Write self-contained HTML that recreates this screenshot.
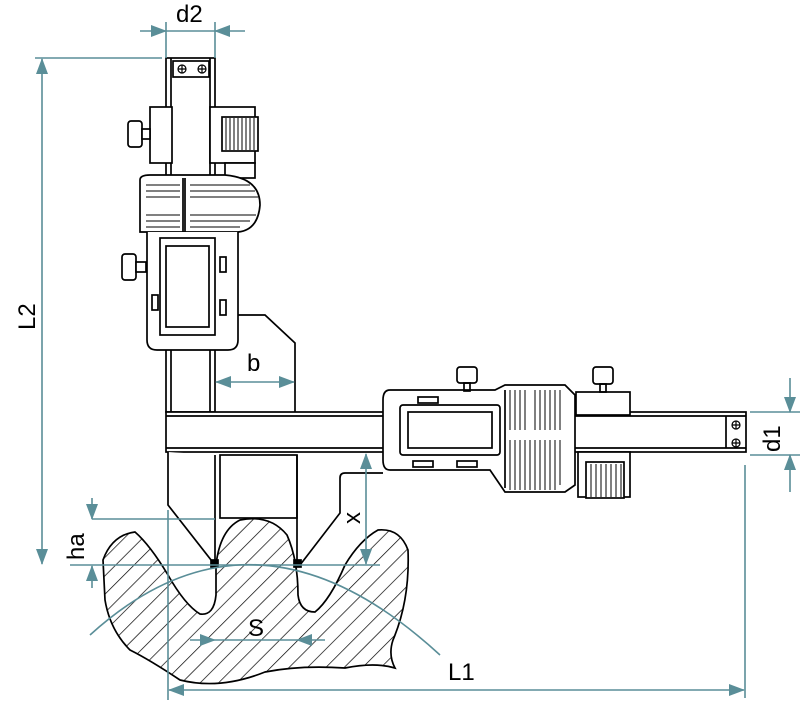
<!DOCTYPE html>
<html><head><style>body{margin:0;background:#fff}svg{display:block}</style></head><body>
<svg width="800" height="707" viewBox="0 0 800 707" xmlns="http://www.w3.org/2000/svg" font-family="Liberation Sans, sans-serif">
<defs>
<pattern id="h" width="13" height="13" patternUnits="userSpaceOnUse" patternTransform="rotate(45)">
<line x1="0" y1="0" x2="0" y2="13" stroke="#000" stroke-width="1.4"/></pattern>
<marker id="a" markerWidth="16" markerHeight="12" refX="15" refY="6" orient="auto" markerUnits="userSpaceOnUse"><path d="M0,0 L16,6 L0,12z" fill="#5a8e98"/></marker>
</defs>
<g fill="none" stroke="#000" stroke-width="1.7">
<!-- gear -->
<path d="M103,560 Q112,535 135,532 Q150,545 168,575 Q185,605 200,614 Q214,616 216,595 L216,565 Q220,530 240,520 Q270,514 287,535 Q298,560 298,595 Q300,612 315,612 Q330,600 345,565 Q360,540 378,530 Q400,528 408,550 Q410,600 393,640 Q388,655 395,668 Q375,662 345,668 Q300,665 265,672 Q220,690 180,680 Q150,660 130,650 Q110,630 105,600 Z" fill="url(#h)"/>
<!-- vertical beam -->
<rect x="166" y="58" width="49" height="354" fill="#fff"/>
<line x1="171" y1="58" x2="171" y2="412"/><line x1="210" y1="58" x2="210" y2="412"/>
<rect x="173" y="61" width="36" height="16" fill="#fff"/>
<!-- upper blocks -->
<rect x="150" y="107" width="22" height="56" fill="#fff"/>
<rect x="128" y="121" width="14" height="26" rx="3" fill="#fff"/><rect x="142" y="129" width="8" height="10" fill="#fff"/>
<rect x="210" y="107" width="45" height="56" fill="#fff"/>
<rect x="222" y="117" width="36" height="34" fill="#fff"/>
<path d="M226,118v32M230,118v32M234,118v32M238,118v32M242,118v32M246,118v32M250,118v32M254,118v32" stroke-width="1"/>
<rect x="225" y="163" width="30" height="15" fill="#fff"/>
<!-- big head -->
<path d="M140,180 Q140,175 150,175 L225,175 Q260,178 260,205 Q258,230 238,232 L140,232 Z" fill="#fff"/>
<path d="M146,185h34M146,191h34M146,197h34M146,215h34M146,221h34M146,227h34M190,185h60M190,191h65M190,197h68M190,215h66M190,221h60M190,227h50" stroke-width="1"/>
<line x1="183" y1="178" x2="183" y2="232"/><line x1="185" y1="178" x2="185" y2="232"/>
<path d="M147,232 L147,340 Q147,350 157,350 L228,350 Q238,350 238,340 L238,232" fill="#fff"/>
<rect x="160" y="238" width="55" height="97" fill="#fff"/><rect x="166" y="246" width="43" height="81" fill="#fff"/>
<rect x="220" y="257" width="6" height="15"/><rect x="220" y="300" width="6" height="15"/><rect x="152" y="295" width="6" height="15"/>
<rect x="122" y="254" width="14" height="26" rx="3" fill="#fff"/><rect x="136" y="262" width="10" height="10" fill="#fff"/>
<path d="M238,315 L265,315 L295,343 L295,412"/>
<!-- horizontal beam -->
<rect x="166" y="412" width="580" height="40" fill="#fff"/>
<line x1="166" y1="416" x2="746" y2="416"/><line x1="166" y1="448" x2="746" y2="448"/>
<!-- jaws -->
<path d="M168,452 L168,505 L215,565 L215,455" fill="#fff"/>
<rect x="220" y="455" width="77" height="63" fill="#fff"/>
<path d="M297,455 L297,562 M340,478 L340,513 L300,565 M340,478 Q340,473 345,473 L383,473"/>
<rect x="211" y="560" width="7" height="7" fill="#000"/><rect x="294" y="560" width="7" height="7" fill="#000"/>
<!-- right head -->
<path d="M390,390 L495,390 L505,385 L565,385 L575,395 L575,485 L565,492 L505,492 L490,470 L390,470 Q383,470 383,460 L383,400 Q383,390 390,390Z" fill="#fff"/>
<path d="M505,390 L505,488" />
<path d="M510,390v40M515,390v40M520,390v40M525,390v40M535,390v40M540,390v40M545,390v40M550,390v40M555,390v40M560,390v40M510,440v50M515,440v50M520,440v50M525,440v50M530,440v50M535,440v50M540,440v50M545,440v50M550,440v50M555,440v50M560,440v45" stroke-width="1"/>
<rect x="400" y="405" width="100" height="50" rx="3" fill="#fff"/><rect x="408" y="412" width="84" height="36" fill="#fff"/>
<rect x="418" y="397" width="20" height="6"/><rect x="413" y="461" width="20" height="6"/><rect x="457" y="461" width="20" height="6"/>
<rect x="457" y="367" width="20" height="16" rx="3" fill="#fff"/><rect x="464" y="383" width="6" height="8"/>
<rect x="576" y="392" width="54" height="23" fill="#fff"/>
<rect x="593" y="367" width="20" height="17" rx="3" fill="#fff"/><rect x="600" y="384" width="6" height="8"/>
<rect x="578" y="452" width="52" height="45" fill="#fff"/>
<rect x="586" y="462" width="38" height="36" fill="#fff"/>
<path d="M591,464v33M596,464v33M601,464v33M606,464v33M611,464v33M616,464v33M621,464v33" stroke-width="1"/>
<line x1="726" y1="416" x2="726" y2="448"/>
</g>
<g fill="none" stroke="#000" stroke-width="1.2">
<circle cx="182" cy="69" r="4"/><path d="M178,69h8M182,65v8"/>
<circle cx="202" cy="69" r="4"/><path d="M198,69h8M202,65v8"/>
<circle cx="736" cy="425" r="4"/><path d="M732,425h8M736,421v8"/>
<circle cx="736" cy="443" r="4"/><path d="M732,443h8M736,439v8"/>
</g>
<!-- dimensions -->
<g stroke="#5a8e98" stroke-width="1.6" fill="none">
<path d="M166,22V58M215,22V58M35,58H162M92,519H215M70,565H380M168,510V700M745,465V698M750,412H800M750,455H800"/>
<line x1="140" y1="31" x2="166" y2="31" marker-end="url(#a)"/><line x1="245" y1="31" x2="215" y2="31" marker-end="url(#a)"/>
<line x1="166" y1="31" x2="215" y2="31"/>
<line x1="42" y1="310" x2="42" y2="59" marker-end="url(#a)"/><line x1="42" y1="310" x2="42" y2="564" marker-end="url(#a)"/>
<line x1="255" y1="382" x2="216" y2="382" marker-end="url(#a)"/><line x1="255" y1="382" x2="294" y2="382" marker-end="url(#a)"/>
<line x1="366" y1="510" x2="366" y2="454" marker-end="url(#a)"/><line x1="366" y1="510" x2="366" y2="564" marker-end="url(#a)"/>
<line x1="92" y1="498" x2="92" y2="519" marker-end="url(#a)"/><line x1="92" y1="588" x2="92" y2="566" marker-end="url(#a)"/>
<line x1="790" y1="378" x2="790" y2="412" marker-end="url(#a)"/><line x1="790" y1="492" x2="790" y2="455" marker-end="url(#a)"/>
<line x1="455" y1="690" x2="169" y2="690" marker-end="url(#a)"/><line x1="455" y1="690" x2="744" y2="690" marker-end="url(#a)"/>
<line x1="190" y1="640" x2="215" y2="640" marker-end="url(#a)"/><line x1="325" y1="640" x2="297" y2="640" marker-end="url(#a)"/>
<line x1="215" y1="640" x2="297" y2="640"/>
<path d="M90,635 Q255,485 440,655"/>
</g>
<g font-size="24" fill="#000">
<text x="176" y="22">d2</text>
<text x="247" y="371">b</text>
<text x="448" y="680">L1</text>
<text x="248" y="636">S</text>
<text transform="translate(360,524) rotate(-90)">x</text>
<text transform="translate(35,330) rotate(-90)">L2</text>
<text transform="translate(84,560) rotate(-90)">ha</text>
<text transform="translate(780,452) rotate(-90)">d1</text>
</g>
</svg>
</body></html>
